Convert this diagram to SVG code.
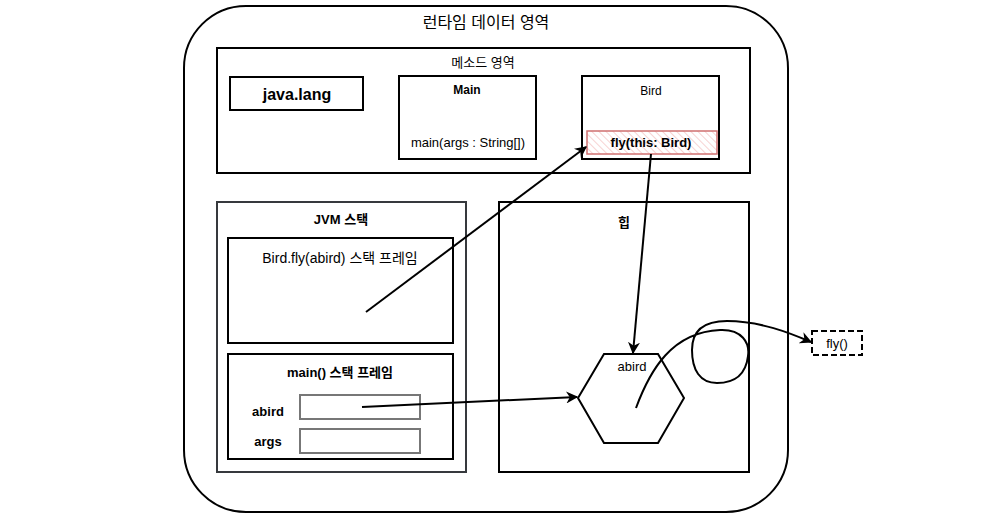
<svg xmlns="http://www.w3.org/2000/svg" width="981" height="519" viewBox="0 0 981 519">
<style>
text{font-family:"Liberation Sans","Noto Sans CJK KR",Arial,sans-serif;fill:#000;text-anchor:middle}
.b{font-weight:bold}
.box{fill:#fff;stroke:#000;stroke-width:2}
.gbox{fill:#fff;stroke:#777;stroke-width:2}
.con{fill:none;stroke:#000;stroke-width:2}
</style>
<defs>
<marker id="ah" viewBox="0 0 10 10" refX="9" refY="5" markerWidth="6" markerHeight="6" orient="auto" markerUnits="strokeWidth">
<path d="M0,0 L10,5 L0,10 L3,5 Z" fill="#000"/>
</marker>
<pattern id="hatch" width="5" height="5" patternUnits="userSpaceOnUse" patternTransform="rotate(-45)">
<rect width="5" height="5" fill="#fff"/>
<line x1="0" y1="0" x2="0" y2="5" stroke="#f0a8a8" stroke-width="1"/>
</pattern>
</defs>
<rect width="981" height="519" fill="#fff"/>
<g id="runtime">
<rect x="184" y="6" width="604" height="506" rx="62" ry="62" class="box"/>
<text x="486" y="28" font-size="16">런타임 데이터 영역</text>
</g>
<g id="method-area">
<rect x="217" y="48" width="533" height="125" class="box"/>
<text x="483" y="67" font-size="13">메소드 영역</text>
</g>
<g id="java-lang">
<rect x="230" y="77" width="133" height="33" class="box"/>
<text x="297" y="100" font-size="16" class="b">java.lang</text>
</g>
<g id="main-class">
<rect x="399" y="76" width="137" height="83" class="box"/>
<text x="467" y="94" font-size="12" class="b">Main</text>
<text x="468" y="147" font-size="13">main(args : String[])</text>
</g>
<g id="bird-class">
<rect x="582" y="76" width="137" height="83" class="box"/>
<text x="651" y="95" font-size="12">Bird</text>
</g>
<g id="fly-method">
<rect x="587" y="131" width="130" height="23" fill="url(#hatch)" stroke="#d07070" stroke-width="1.5"/>
<text x="651" y="147" font-size="13" class="b">fly(this: Bird)</text>
</g>
<g id="jvm-stack">
<rect x="217" y="202" width="249" height="270" fill="#fff" stroke="#36393d" stroke-width="2"/>
<text x="341" y="224" font-size="13" class="b">JVM 스택</text>
</g>
<g id="fly-frame">
<rect x="228" y="238" width="225" height="105" class="box"/>
<text x="340" y="263" font-size="14">Bird.fly(abird) 스택 프레임</text>
</g>
<g id="main-frame">
<rect x="228" y="354" width="225" height="105" class="box"/>
<text x="340" y="377" font-size="13" class="b">main() 스택 프레임</text>
</g>
<g id="abird-var">
<text x="268" y="416" font-size="13" class="b">abird</text>
<rect x="300" y="395" width="120" height="24" class="gbox"/>
</g>
<g id="args-var">
<text x="268" y="446" font-size="13" class="b">args</text>
<rect x="300" y="429" width="120" height="24" class="gbox"/>
</g>
<g id="heap">
<rect x="499" y="202" width="250" height="270" class="box"/>
<text x="624" y="227" font-size="13" class="b">힙</text>
</g>
<g id="abird-obj">
<polygon points="604,354 658,354 684,398 658,443 604,443 578,398" class="box"/>
<text x="632" y="371" font-size="13">abird</text>
</g>
<g id="fly-ref">
<rect x="812" y="331" width="50" height="24" fill="#fff" stroke="#000" stroke-width="2" stroke-dasharray="6,3"/>
<text x="837" y="348" font-size="13">fly()</text>
</g>
<g id="connectors">
<line x1="366" y1="312" x2="586" y2="147" class="con" marker-end="url(#ah)"/>
<line x1="651" y1="154" x2="633" y2="353" class="con" marker-end="url(#ah)"/>
<line x1="362" y1="407" x2="577" y2="397" class="con" marker-end="url(#ah)"/>
<path d="M636,408 C650,370 672,332 720,330 C742,329 750,343 748,356 C746,373 736,383 717,383 C700,383 692,370 692,350 C692,330 705,321 727,321 C760,321 790,333 811,342" class="con" marker-end="url(#ah)"/>
</g>
</svg>
